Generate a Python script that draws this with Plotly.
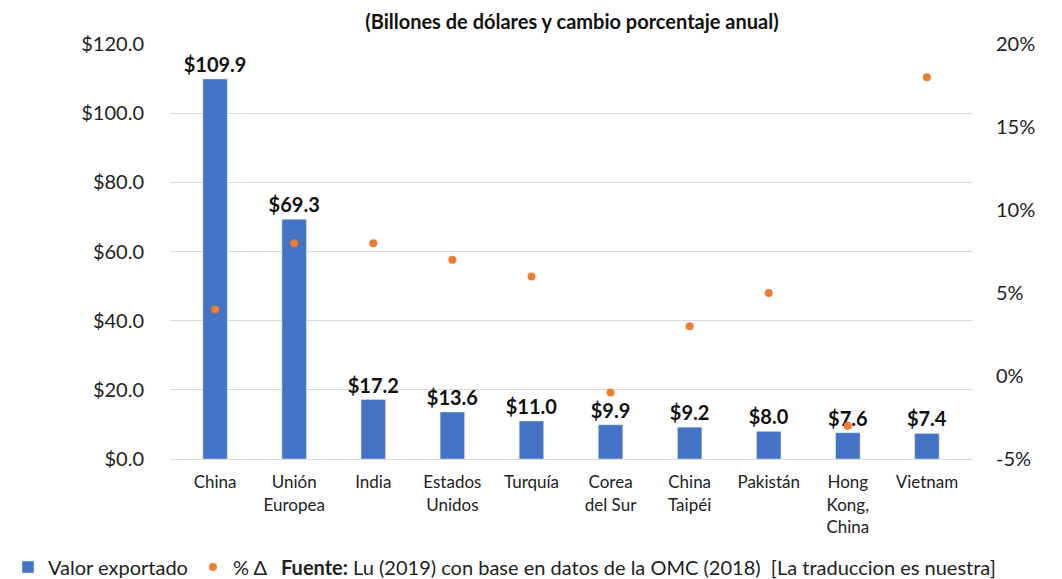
import plotly.graph_objects as go

categories = ["China", "Unión<br>Europea", "India", "Estados<br>Unidos", "Turquía",
              "Corea<br>del Sur", "China<br>Taipéi", "Pakistán", "Hong<br>Kong,<br>China", "Vietnam"]
valor_exportado = [109.9, 69.3, 17.2, 13.6, 11.0, 9.9, 9.2, 8.0, 7.6, 7.4]
cambio_pct = [4, 8, 8, 7, 6, -1, 3, 5, -3, 18]
left_ticks = [0, 20, 40, 60, 80, 100, 120]
right_ticks = [-5, 0, 5, 10, 15, 20]

FONT = "Lato"
fig = go.Figure()
fig.add_trace(go.Bar(
    x=categories, y=valor_exportado, name="Valor exportado",
    marker=dict(color="#4472C4"), width=0.31,
    text=[f"<b>${v:.1f}</b>" for v in valor_exportado], textposition="outside",
    constraintext="none",
    textfont=dict(size=20, color="#111", family=FONT), cliponaxis=False,
))
fig.add_trace(go.Scatter(
    x=categories, y=cambio_pct, name="% Δ", mode="markers", yaxis="y2",
    marker=dict(color="#ED7D31", size=8), cliponaxis=False,
))
fig.update_layout(
    width=1062, height=579,
    margin=dict(l=162, r=98, t=36, b=128),
    plot_bgcolor="white", paper_bgcolor="white",
    font=dict(family=FONT, color="#222"),
    showlegend=True,
    title=dict(text="<b>(Billones de dólares y cambio porcentaje anual)</b>",
               x=0.531, xanchor="center", y=0.976, yanchor="middle",
               font=dict(size=20, color="#111", family=FONT)),
    xaxis=dict(tickfont=dict(size=17, color="#222"), showline=True,
               linecolor="#d9d9d9", linewidth=1, ticks="", automargin=False,
               ticklabelstandoff=8),
    yaxis=dict(range=[0, 120], tickvals=left_ticks,
               ticktext=[f"${v:.1f}" for v in left_ticks],
               tickfont=dict(size=20, color="#222"), gridcolor="#d9d9d9",
               zeroline=False, ticklabelstandoff=25, automargin=False),
    yaxis2=dict(range=[-5, 20], tickvals=right_ticks,
                ticktext=[f"{v}%" for v in right_ticks],
                overlaying="y", side="right", showgrid=False, zeroline=False,
                tickfont=dict(size=20, color="#222"), ticklabelstandoff=23,
                automargin=False),
    legend=dict(orientation="h", x=0, xref="container", xanchor="left",
                y=0.0345, yref="container", yanchor="middle",
                font=dict(size=20, color="#222"), itemwidth=30,
                entrywidth=140, entrywidthmode="pixels",
                tracegroupgap=0, bgcolor="rgba(0,0,0,0)"),
)
fig.add_annotation(text="<b>Fuente:</b> Lu (2019) con base en datos de la OMC (2018)  [La traduccion es nuestra]",
                   xref="paper", yref="paper", x=0.136, y=-0.26, xanchor="left",
                   yanchor="middle", showarrow=False, font=dict(size=20, color="#222"))
fig.write_html("out.html")
